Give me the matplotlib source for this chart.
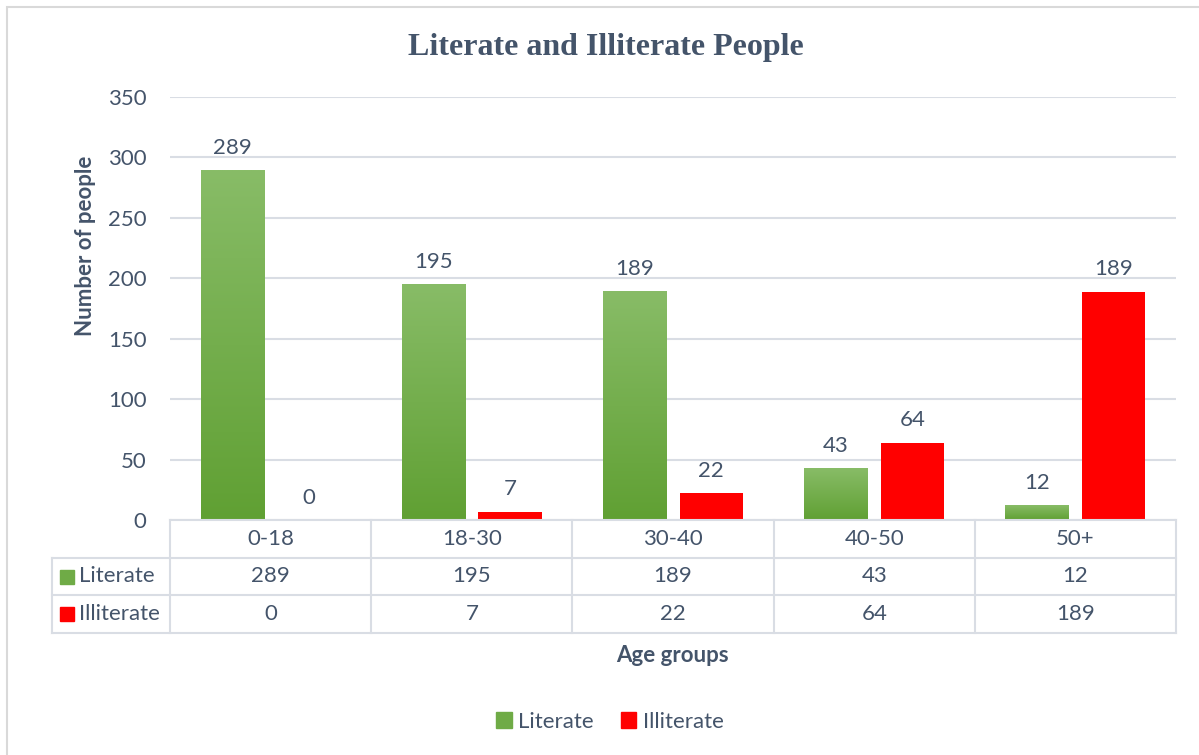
import numpy as np
import matplotlib
matplotlib.use("Agg")
import matplotlib.pyplot as plt
from matplotlib.colors import LinearSegmentedColormap
from matplotlib.patches import Patch, Rectangle

# ── Data ──────────────────────────────────────────────────────────────────────
age_groups = ["0-18", "18-30", "30-40", "40-50", "50+"]
literate   = [289, 195, 189, 43, 12]
illiterate = [0, 7, 22, 64, 189]
series_names = ["Literate", "Illiterate"]

# ── Style ─────────────────────────────────────────────────────────────────────
TXT    = "#44546a"
GRID   = "#d9dde4"
GREEN  = "#6fab46"
G_TOP  = "#88bc67"
G_BOT  = "#60a033"
RED    = "#ff0000"
FONT   = "Lato"
FS     = 16

W, H = 1199, 755
plt.rcParams["font.family"] = [FONT, "DejaVu Sans"]

fig = plt.figure(figsize=(W / 100, H / 100), dpi=100)


def px_rect(x0, y0, x1, y1):
    """pixel box (top-left origin) -> figure rect"""
    return [x0 / W, 1 - y1 / H, (x1 - x0) / W, (y1 - y0) / H]


# outer chart border (left/top visible, rest cut off)
fig.patches.append(Rectangle((7 / W, -0.2), 1.2, 1.2 - 7 / H, transform=fig.transFigure,
                             fill=False, edgecolor="#d9d9d9", lw=1.5))

# ── Bar chart ─────────────────────────────────────────────────────────────────
ax = fig.add_axes(px_rect(170, 97, 1176, 520))
x = np.arange(len(age_groups))
bw, off = 0.315, 0.19

gbars = ax.bar(x - off, literate, bw, color="none", zorder=3)
rbars = ax.bar(x + off, illiterate, bw, color=RED, zorder=3)

cmap = LinearSegmentedColormap.from_list("g", [G_BOT, G_TOP])
grad = np.linspace(0, 1, 256).reshape(-1, 1)
for b in gbars:
    bx, bh = b.get_x(), b.get_height()
    if bh > 0:
        ax.imshow(grad, extent=[bx, bx + b.get_width(), 0, bh], origin="lower",
                  aspect="auto", cmap=cmap, zorder=3)

for bars in (gbars, rbars):
    for b in bars:
        ax.annotate(f"{int(b.get_height())}", (b.get_x() + b.get_width() / 2, b.get_height()),
                    xytext=(0, 9), textcoords="offset points", ha="center", va="bottom",
                    fontsize=FS, color=TXT)

ax.set_xlim(-0.5, len(age_groups) - 0.5)
ax.set_ylim(0, 350)
ax.set_yticks(np.arange(0, 351, 50))
ax.set_xticks([])
ax.grid(axis="y", color=GRID, lw=1.5, zorder=0)
ax.set_axisbelow(True)
for s in ax.spines.values():
    s.set_visible(False)
ax.tick_params(axis="y", length=0, pad=17, labelsize=FS, labelcolor=TXT)
ax.set_ylabel("Number of people", fontsize=FS, fontweight="bold", color=TXT)
ax.yaxis.set_label_coords(-0.074, 0.648)

# ── Data table under the axis ─────────────────────────────────────────────────
tab = fig.add_axes(px_rect(52, 520, 1176, 633))
lab_w = 118 / (1006 / len(age_groups))
left = -0.5 - lab_w
n = len(age_groups)
tab.set_xlim(left, n - 0.5)
tab.set_ylim(3, 0)
tab.axis("off")

lk = dict(color=GRID, lw=1.5, clip_on=False)
tab.plot([-0.5, n - 0.5], [0, 0], **lk)
for r in (1, 2, 3):
    tab.plot([left, n - 0.5], [r, r], **lk)
for i in range(n + 1):
    tab.plot([i - 0.5, i - 0.5], [0, 3], **lk)
tab.plot([left, left], [1, 3], **lk)

for i, g in enumerate(age_groups):
    tab.text(i, 0.5, g, ha="center", va="center", fontsize=FS, color=TXT)
    tab.text(i, 1.5, str(literate[i]), ha="center", va="center", fontsize=FS, color=TXT)
    tab.text(i, 2.5, str(illiterate[i]), ha="center", va="center", fontsize=FS, color=TXT)

for r, (name, col) in enumerate(zip(series_names, [GREEN, RED])):
    tab.plot([left + 0.075], [r + 1.5], marker="s", ms=10.5, color=col, ls="none")
    tab.text(left + 0.135, r + 1.5, name, ha="left", va="center", fontsize=FS, color=TXT)

# ── Titles and legend ─────────────────────────────────────────────────────────
fig.text(606 / W, 1 - 47 / H, "Literate and Illiterate People", ha="center", va="center",
         fontsize=23, fontweight="bold", color=TXT, family="Liberation Serif")
fig.text(672 / W, 1 - 655 / H, "Age groups", ha="center", va="center",
         fontsize=FS, fontweight="bold", color=TXT)

handles = [Patch(color=GREEN), Patch(color=RED)]
fig.legend(handles, series_names, loc="center", bbox_to_anchor=(610 / W, 1 - 722 / H),
           ncol=2, frameon=False, fontsize=FS, labelcolor=TXT, handlelength=0.7,
           handleheight=0.7, handletextpad=0.3, columnspacing=1.2)

fig.savefig("out.png", dpi=100)
